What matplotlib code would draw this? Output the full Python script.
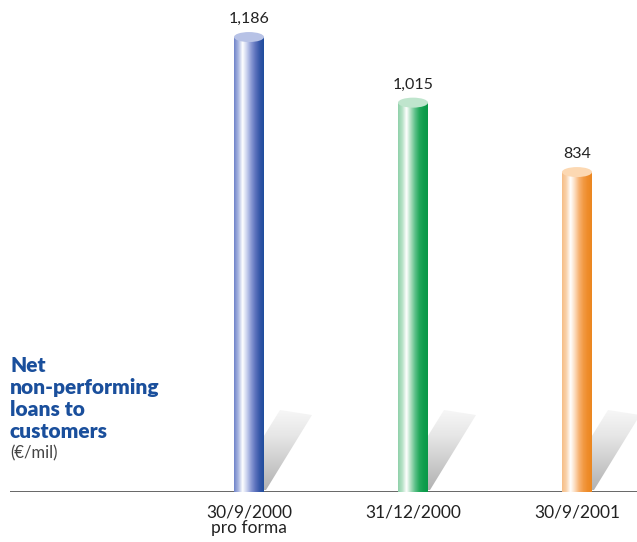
import numpy as np
import matplotlib
matplotlib.use("Agg")
import matplotlib.pyplot as plt
from matplotlib.colors import LinearSegmentedColormap
from matplotlib.path import Path
from matplotlib.patches import PathPatch, Ellipse, Polygon

# data
categories = ["30/9/2000\npro forma", "31/12/2000", "30/9/2001"]
values = [1186, 1015, 834]
value_labels = ["1,186", "1,015", "834"]

# colour stops for each cylinder (left -> right)
stops = [
    ["#6f83c9", "#a9b6e1", "#ffffff", "#c9d1ee", "#8c9bd5", "#5d72bd", "#3657a8", "#1e4c9c"],
    ["#8fd1a9", "#b5e2c6", "#ffffff", "#acdebf", "#5cc088", "#22a85b", "#0f9e4d", "#0a9848"],
    ["#f6bd86", "#f9d2ab", "#ffffff", "#fcdcbd", "#f7b272", "#f29a44", "#ee8c2a", "#eb8720"],
]
tops = ["#b7c2e6", "#bfe5cd", "#fcd8b2"]

plt.rcParams['font.family'] = ['Lato', 'DejaVu Sans']

W, H = 637, 542
fig = plt.figure(figsize=(W / 100, H / 100), dpi=100)
base_px = 492
px_per_unit = 0.3836
x0_px, step_px = 249, 164
ymax = 1200
ax = fig.add_axes([10 / W, (H - base_px) / H, 627 / W, ymax * px_per_unit / H])
ax.set_xlim((10 - x0_px) / step_px, (637 - x0_px) / step_px)
ax.set_ylim(0, ymax)
ax.axis("off")

ux = 1 / step_px        # data units per pixel (x)
uy = 1 / px_per_unit    # data units per pixel (y)
w = 30 * ux
eh = 10 * uy

ax.plot([ax.get_xlim()[0], ax.get_xlim()[1]], [0, 0], color="#5a5a5a", lw=1.3, zorder=1)

grad = np.linspace(0, 1, 256).reshape(1, -1)
shadow_grad = np.linspace(0, 1, 256).reshape(-1, 1)
shadow_cmap = LinearSegmentedColormap.from_list("sh", ["#b0b0b0", "#cbcbcb", "#e6e6e6", "#f8f8f8"])

for i, (v, lab, cat) in enumerate(zip(values, value_labels, categories)):
    xl, xr = i - w / 2, i + w / 2
    # shadow (pixel offsets from the bar's right foot)
    sh = [(xr - 10 * ux, 40 * uy), (xr + 16 * ux, 82 * uy),
          (xr + 48 * ux, 77 * uy), (xr + 2 * ux, 2 * uy), (xr - 10 * ux, 2 * uy)]
    poly = Polygon(sh, closed=True, facecolor="none", edgecolor="none")
    ax.add_patch(poly)
    im = ax.imshow(shadow_grad, cmap=shadow_cmap, aspect="auto", origin="lower",
                   extent=[xr - 10 * ux, xr + 48 * ux, 0, 84 * uy], zorder=2)
    im.set_clip_path(poly)

    # body with rounded bottom
    t = np.linspace(np.pi, 2 * np.pi, 40)
    arc = np.column_stack([i + w / 2 * np.cos(t), eh / 2 * np.sin(t)])
    verts = np.vstack([[(xl, v)], arc, [(xr, v)], [(xl, v)]])
    codes = [Path.MOVETO] + [Path.LINETO] * (len(verts) - 2) + [Path.CLOSEPOLY]
    body = PathPatch(Path(verts, codes), facecolor="none", edgecolor="none")
    ax.add_patch(body)
    cmap = LinearSegmentedColormap.from_list("c%d" % i, stops[i])
    im = ax.imshow(grad, cmap=cmap, aspect="auto", extent=[xl, xr, -eh, v], zorder=3)
    im.set_clip_path(body)

    # top ellipse
    ax.add_patch(Ellipse((i, v), w, eh, facecolor=tops[i], edgecolor="none",
                         zorder=4, clip_on=False))

    ax.text(i, v + 11 * uy, lab, ha="center", va="bottom", fontsize=11.5,
            color="#222222", zorder=5, clip_on=False)
    ax.text(i, -12 * uy, cat, ha="center", va="top", fontsize=12.5,
            color="#222222", linespacing=1.0, clip_on=False)

fig.text(10 / W, 1 - 356 / H, "Net\nnon-performing\nloans to\ncustomers",
         ha="left", va="top", fontsize=15, fontweight="heavy", color="#1a4f9c",
         linespacing=1.18)
fig.text(10 / W, 1 - 445 / H, "(€/mil)", ha="left", va="top", fontsize=12,
         color="#444444")

fig.savefig("out.png", dpi=100)
